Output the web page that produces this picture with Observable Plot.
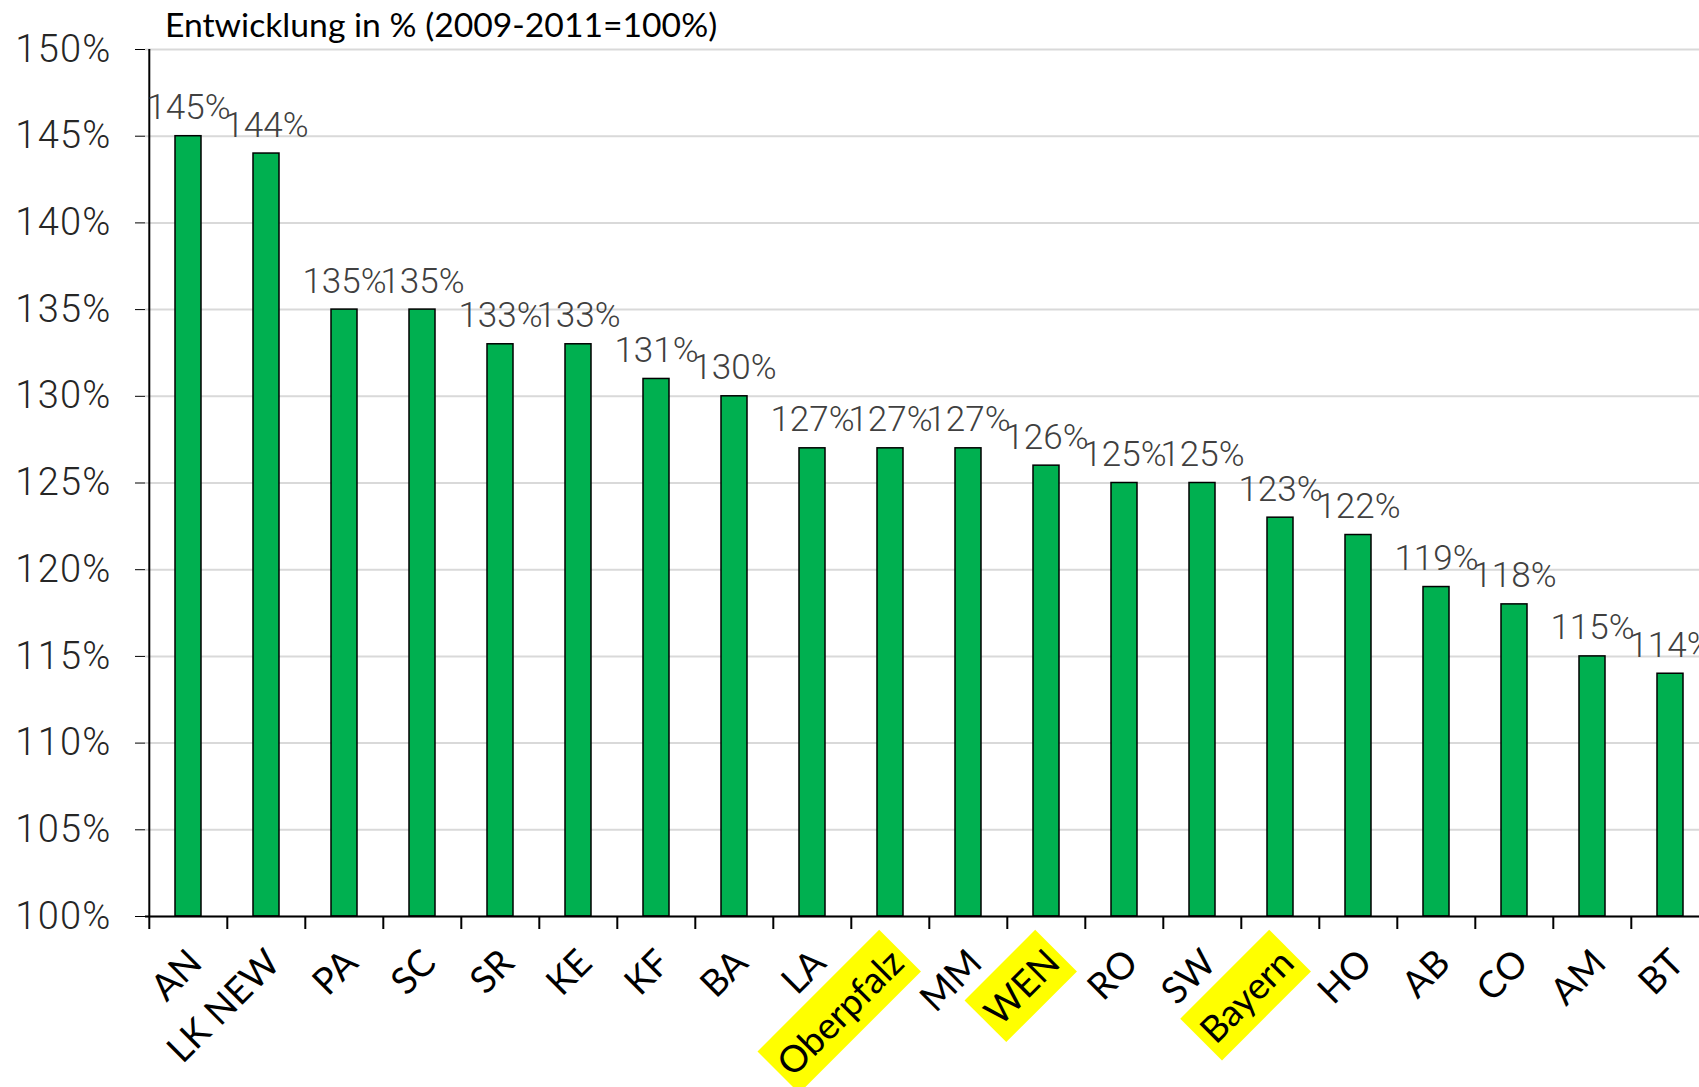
<!DOCTYPE html>
<html><head><meta charset="utf-8">
<script src="https://cdn.jsdelivr.net/npm/d3@7"></script>
<script src="https://cdn.jsdelivr.net/npm/@observablehq/plot@0.6"></script>
<style>
html,body{margin:0;padding:0;overflow:hidden;background:#fff;width:1699px;height:1087px}
#wrap{position:relative;width:1699px;height:1087px;overflow:hidden}
#chart{position:absolute;left:0;top:0;width:1715px}
#chart svg{max-width:none !important}
#title{position:absolute;left:165px;top:4px;font-family:Lato,"Open Sans",sans-serif;font-size:33.7px;color:#000;white-space:nowrap}
</style></head><body><div id="wrap"><div id="chart"></div><div id="title">Entwicklung in % (2009-2011=100%)</div></div>
<script>
const categories = ["AN","LK NEW","PA","SC","SR","KE","KF","BA","LA","Oberpfalz","MM","WEN","RO","SW","Bayern","HO","AB","CO","AM","BT"];
const values = [145,144,135,135,133,133,131,130,127,127,127,126,125,125,123,122,119,118,115,114];
const highlighted = ["Oberpfalz","WEN","Bayern"];
const yTicks = [100,105,110,115,120,125,130,135,140,145,150];

const data = categories.map((c, i) => ({cat: c, value: values[i]}));
const bandHalf = 39.2;

const chart = Plot.plot({
  width: 1715, height: 1087,
  marginLeft: 145, marginRight: 2, marginTop: 49, marginBottom: 171,
  style: {fontFamily: "Roboto", fontWeight: 300, fontSize: "38px", color: "#000", background: "transparent", maxWidth: "none"},
  x: {type: "band", domain: categories, padding: 0, axis: null},
  y: {domain: [100, 150], axis: null},
  marks: [
    Plot.gridY(yTicks, {stroke: "#d9d9d9", strokeOpacity: 1, strokeWidth: 2}),
    Plot.barY(data, {x: "cat", y1: 100, y2: "value", fill: "#00b050", stroke: "#000", strokeWidth: 1.5, insetLeft: 26, insetRight: 26}),
    Plot.axisY({ticks: yTicks, tickFormat: d => d + "%", tickSize: 10, tickPadding: 24, fontSize: 38, fontWeight: 300, fill: "#262626", stroke: "#000", label: null}),
    Plot.ruleX([categories[0]], {x: d => d, dx: -bandHalf, y1: 100, y2: 150, stroke: "#000", strokeWidth: 2}),
    Plot.ruleY([100], {stroke: "#000", strokeWidth: 2}),
    Plot.ruleX(categories, {x: d => d, dx: -bandHalf, y1: 100, y2: 100, insetBottom: -13, stroke: "#000", strokeWidth: 2}),
    Plot.text(data, {x: "cat", y: "value", text: d => d.value + "%", lineAnchor: "bottom", dy: -17, fontFamily: "Roboto", fontWeight: 300, fontSize: 35, fill: "#404040"}),
    Plot.text(categories, {x: d => d, frameAnchor: "bottom", text: d => d, rotate: -45, textAnchor: "end", lineAnchor: "top", dx: -3, dy: 30, fontFamily: "Lato", fontWeight: 400, fontSize: 37, fill: "#000"})
  ]
});
chart.style.maxWidth = "none";
document.getElementById("chart").appendChild(chart);

// y tick labels: slightly wider spacing like the reference
chart.querySelectorAll("text").forEach(t => {
  if (/^\d+%$/.test(t.textContent) && t.closest("g[aria-label='y-axis tick label']")) {
    t.setAttribute("letter-spacing", "1.2");
  }
});

// yellow highlight boxes behind selected category labels
chart.querySelectorAll("text").forEach(t => {
  if (highlighted.includes(t.textContent)) {
    const b = t.getBBox();
    const r = document.createElementNS("http://www.w3.org/2000/svg", "rect");
    const padX = 6, padY = 7;
    r.setAttribute("x", b.x - padX);
    r.setAttribute("y", b.y - padY);
    r.setAttribute("width", b.width + 2 * padX);
    r.setAttribute("height", b.height + 2 * padY);
    r.setAttribute("fill", "#ffff00");
    const tr = t.getAttribute("transform");
    if (tr) r.setAttribute("transform", tr);
    t.parentNode.insertBefore(r, t);
  }
});
</script></body></html>
